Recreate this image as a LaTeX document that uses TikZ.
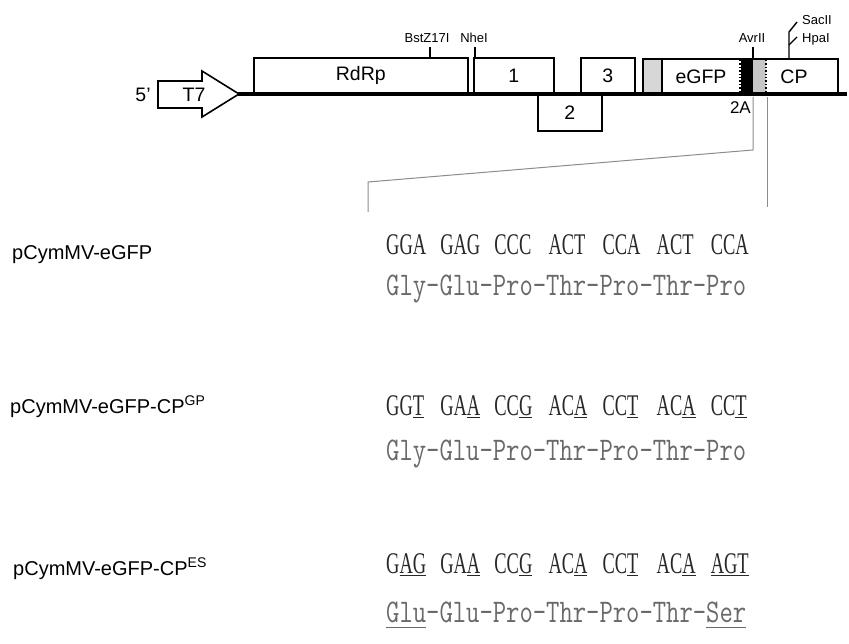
\documentclass[tikz,border=0pt]{standalone}
\usepackage{fontspec}
\setmainfont{Liberation Sans}
\newfontfamily\dnafont[FakeStretch=0.615]{Liberation Serif}
\definecolor{aacol}{RGB}{105,105,105}
\definecolor{ntcol}{RGB}{40,40,40}
\definecolor{conn}{RGB}{140,140,140}
\definecolor{lgray}{RGB}{215,215,215}
\newsavebox\ulbox
\newcommand\ul[2][3pt]{\sbox\ulbox{#2}\rlap{\rule[-#1]{\wd\ulbox}{1.3pt}}\usebox\ulbox}
\newcommand\seqtext[1]{\scalebox{0.7845}[1]{\fontsize{33}{33}\ttfamily #1}}
\begin{document}
\begin{tikzpicture}[x=1pt,y=-1pt,
  gene/.style={draw, line width=1.6pt, rectangle, inner sep=0pt, font=\fontsize{19.5}{19.5}\selectfont},
  lbl/.style={inner sep=0pt, font=\fontsize{19.5}{19.5}\selectfont},
  site/.style={inner sep=0pt, font=\fontsize{13}{13}\selectfont},
  tick/.style={line width=1.4pt},
  guide/.style={draw=conn, line width=1pt},
  nt/.style={anchor=base west, inner sep=0pt, text=ntcol, font=\fontsize{30}{30}\dnafont},
  aa/.style={anchor=base west, inner sep=0pt, text=aacol},
  cname/.style={anchor=base west, inner sep=0pt, font=\fontsize{20}{20}\selectfont}]
\useasboundingbox (0,0) rectangle (849,644);
\fill[white] (0,0) rectangle (849,644);

% T7 promoter arrow
\draw[line width=1.6pt, line join=miter] (158,81) -- (202,81) -- (202,71) -- (239,94) -- (202,117) -- (202,108) -- (158,108) -- cycle;
\node[lbl] (t7) at (194,95) {T7};
\node[lbl] (five) at (143,95) {5'};

% genes
\node[gene, minimum width=214pt, minimum height=35pt, anchor=south west] (rdrp) at (253,94) {RdRp};
\node[gene, minimum width=80pt, minimum height=35pt, anchor=south west] (b1) at (473,94) {1};
\node[gene, minimum width=64pt, minimum height=36pt, anchor=north west] (b2) at (537,94) {2};
\node[gene, minimum width=54pt, minimum height=35pt, anchor=south west] (b3) at (580,94) {3};

% eGFP - 2A - CP cassette
\fill[lgray] (643,59) rectangle (662,94);
\fill[black] (741,59) rectangle (753,94);
\fill[lgray!80!gray] (753,59) rectangle (766,94);
\draw[line width=1.4pt, dotted] (740,60) -- (740,93);
\draw[line width=1.4pt, dotted] (766,60) -- (766,93);
\draw[line width=1.6pt] (643,59) rectangle (838,94);
\draw[line width=1.6pt] (662,59) -- (662,94);
\node[lbl] (egfp) at (701,77) {eGFP};
\node[lbl] (cp) at (794,77) {CP};
\node[lbl, anchor=east, font=\fontsize{17}{17}\selectfont] (twoA) at (751,108) {2A};

% genome line
\draw[line width=3.2pt] (238,94) -- (847,94);

% restriction sites
\node[site] (bst) at (427,38) {BstZ17I};
\node[site] (nhe) at (474,38) {NheI};
\node[site] (avr) at (752,38) {AvrII};
\node[site, anchor=west] (sac) at (802,20) {SacII};
\node[site, anchor=west] (hpa) at (802,39) {HpaI};
\draw[tick] (430,59) -- (430,47);
\draw[tick] (475,59) -- (475,47);
\draw[tick] (753,59) -- (753,47);
\draw[tick, line join=round] (789,59) -- (789,32) -- (797,22);
\draw[tick] (789,45) -- (797,37);

% zoom guides
\coordinate (gl0) at (753,97);
\coordinate (gl1) at (753,150);
\coordinate (gl2) at (368,182);
\coordinate (gl3) at (368,212);
\coordinate (gr0) at (767,97);
\coordinate (gr1) at (767,207);
\draw[guide] (gl0) -- (gl1) -- (gl2) -- (gl3);
\draw[guide] (gr0) -- (gr1);

% construct names
\node[cname] (n1) at (12,260) {pCymMV-eGFP};
\node[cname] (n2) at (10,413) {pCymMV-eGFP-CP\textsuperscript{GP}};
\node[cname] (n3) at (13,575) {pCymMV-eGFP-CP\textsuperscript{ES}};

% nucleotide sequences, one node per codon
\foreach \c [count=\i from 0] in {GGA,GAG,CCC,ACT,CCA,ACT,CCA}
  \node[nt] (sa\i) at (386+54.1*\i,255) {\c};
\foreach \c [count=\i from 0] in {GG\ul{T},GA\ul{A},CC\ul{G},AC\ul{A},CC\ul{T},AC\ul{A},CC\ul{T}}
  \node[nt] (sb\i) at (386+54.1*\i,415) {\c};
\foreach \c [count=\i from 0] in {G\ul{AG},GA\ul{A},CC\ul{G},AC\ul{A},CC\ul{T},AC\ul{A},\ul{AGT}}
  \node[nt] (sc\i) at (386+54.1*\i,573) {\c};

% amino-acid sequences
\node[aa] (p1) at (386,296) {\seqtext{Gly-Glu-Pro-Thr-Pro-Thr-Pro}};
\node[aa] (p2) at (386,460) {\seqtext{Gly-Glu-Pro-Thr-Pro-Thr-Pro}};
\node[aa] (p3) at (386,622) {\seqtext{\ul[6pt]{Glu}-Glu-Pro-Thr-Pro-Thr-\ul[6pt]{Ser}}};
\end{tikzpicture}
\end{document}
